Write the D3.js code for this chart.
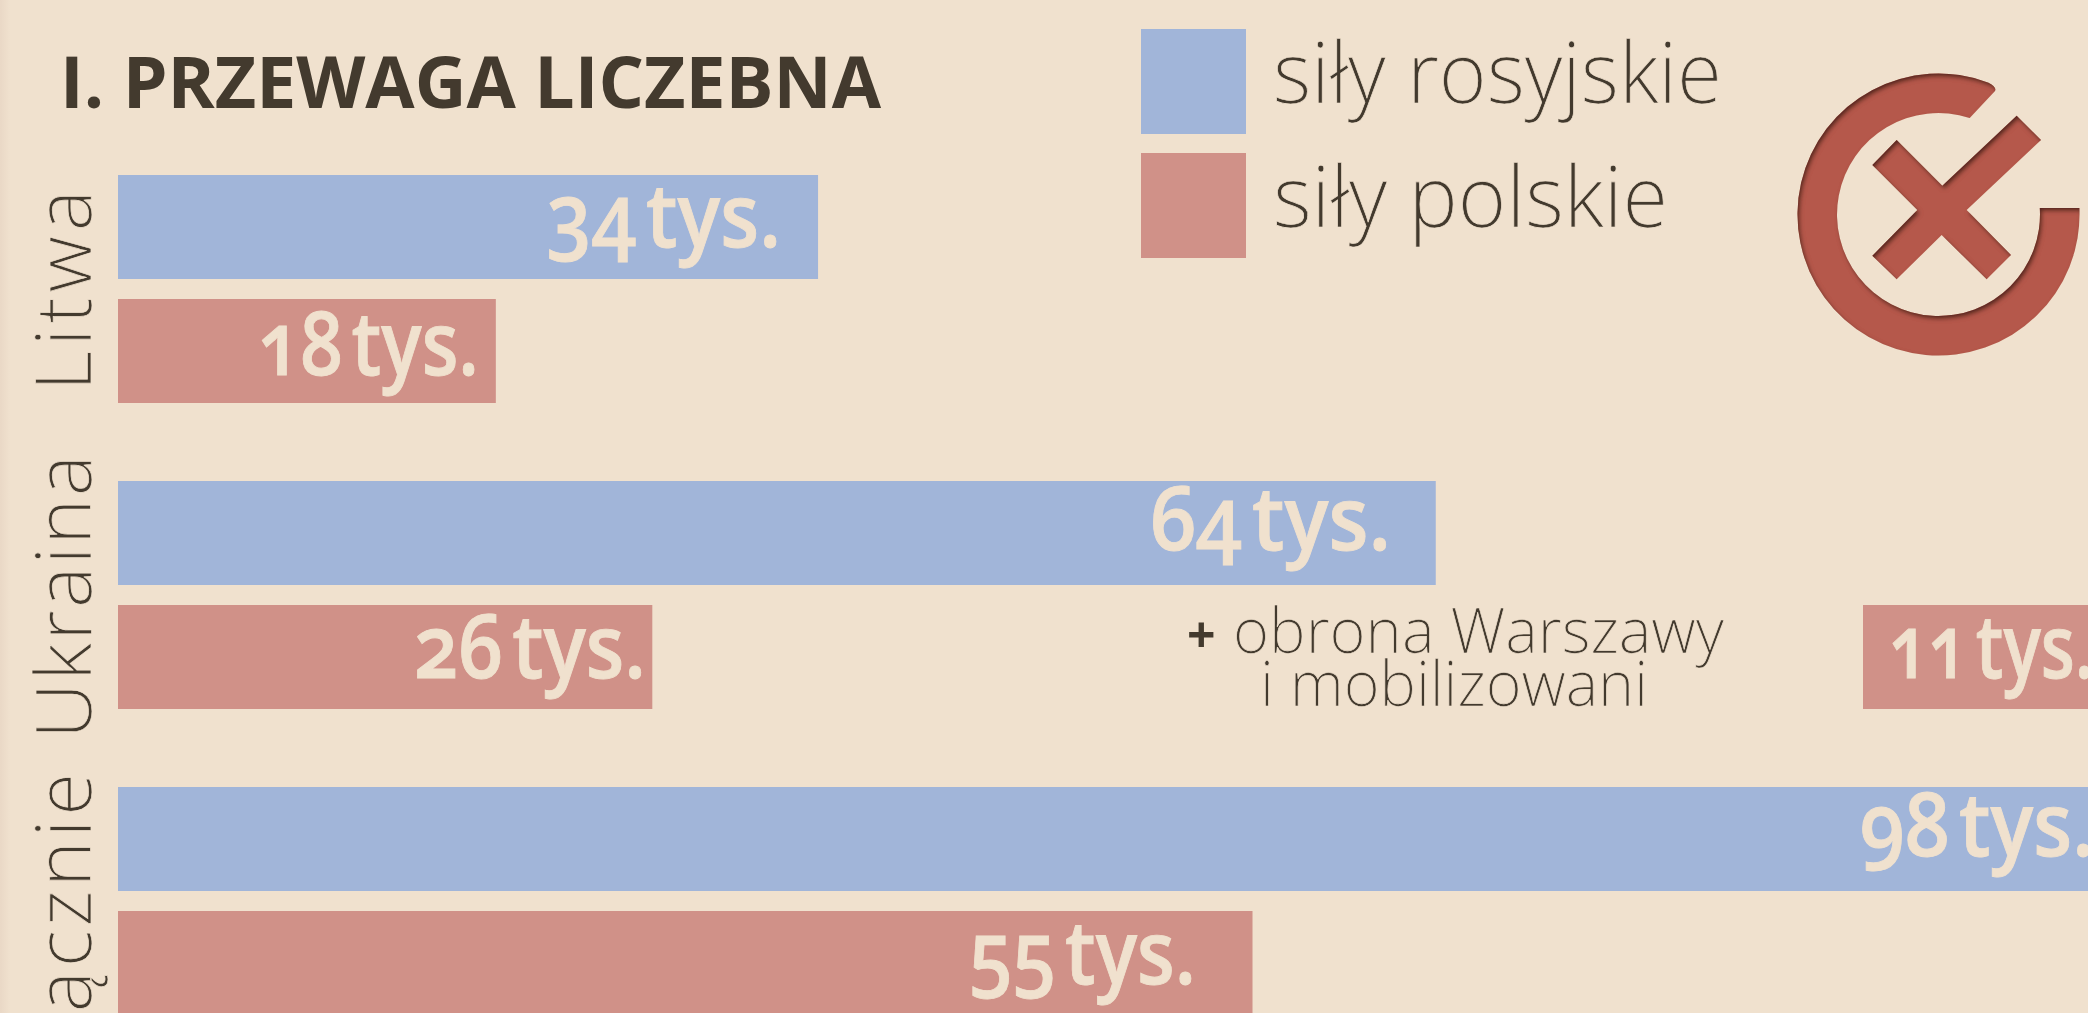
<!DOCTYPE html>
<html><head><meta charset="utf-8">
<script src="https://cdn.jsdelivr.net/npm/d3@7"></script>
<style>
html,body{margin:0;padding:0;background:#f0e1ce;overflow:hidden}
svg{display:block;font-family:"Open Sans",sans-serif;filter:blur(.55px)}
.thin{stroke:#f0e1ce;stroke-width:.7px}
</style></head><body>
<script>
const title = "I. PRZEWAGA LICZEBNA";
const categories = ["Litwa","Ukraina","Łącznie"];
const seriesNames = ["siły rosyjskie","siły polskie"];
const russian = [34,64,98];
const polish = [18.35,25.95,55.1];
const extraPolish = 11;
const unit = " tys.";
const noteLines = ["obrona Warszawy","i mobilizowani"];

const W=2088,H=1013;
const BLUE="#a1b5d9",RED="#d09188",BG="#f0e1ce",INK="#433a2e",ICON="#b5594b",LABEL="#f0e1ce";

const svg=d3.select("body").append("svg").attr("width",W).attr("height",H).attr("viewBox",[0,0,W,H]);
const defs=svg.append("defs");
const f=defs.append("filter").attr("id","inner").attr("x","-5%").attr("y","-5%").attr("width","110%").attr("height","110%");
f.append("feOffset").attr("in","SourceAlpha").attr("dx",1.5).attr("dy",2.5).attr("result","o");
f.append("feGaussianBlur").attr("in","o").attr("stdDeviation",2.2).attr("result","b");
f.append("feComposite").attr("in","SourceAlpha").attr("in2","b").attr("operator","out").attr("result","i");
f.append("feFlood").attr("flood-color","#2a120a").attr("flood-opacity",.85).attr("result","c");
f.append("feComposite").attr("in","c").attr("in2","i").attr("operator","in").attr("result","s");
const m=f.append("feMerge");m.append("feMergeNode").attr("in","SourceGraphic");m.append("feMergeNode").attr("in","s");
const g=defs.append("linearGradient").attr("id","edge");
g.append("stop").attr("offset",0).attr("stop-color","#e8d6c4");
g.append("stop").attr("offset",1).attr("stop-color",BG);

svg.append("rect").attr("x",-2).attr("y",-2).attr("width",W+4).attr("height",H+4).attr("fill",BG);
svg.append("rect").attr("x",-2).attr("y",-2).attr("width",12).attr("height",H+4).attr("fill","url(#edge)");

const x=d3.scaleLinear().domain([0,100]).range([118,118+2059]);
const y=d3.scaleBand().domain(categories).range([175,175+3*306]);
const barH=104, polishOffset=124;

const barG=svg.append("g");
barG.selectAll("rect.ru").data(russian).join("rect").attr("class","ru")
 .attr("x",x(0)).attr("y",(d,i)=>y(categories[i])).attr("width",d=>x(d)-x(0)).attr("height",barH).attr("fill",BLUE);
barG.selectAll("rect.pl").data(polish).join("rect").attr("class","pl")
 .attr("x",x(0)).attr("y",(d,i)=>y(categories[i])+polishOffset).attr("width",d=>x(d)-x(0)).attr("height",barH).attr("fill",RED);
const extraX=1863;
barG.append("rect").attr("x",extraX).attr("y",y("Ukraina")+polishOffset).attr("width",x(extraPolish)-x(0)).attr("height",barH).attr("fill",RED);

function label(t,xl,xr,base){
  svg.append("text").text(t).attr("x",xl).attr("y",base)
   .attr("textLength",xr-xl).attr("lengthAdjust","spacingAndGlyphs")
   .attr("font-size",88).attr("font-weight",600).attr("fill",LABEL)
   .attr("stroke",LABEL).attr("stroke-width",.9)
   .style("font-variant-numeric","oldstyle-nums").style("word-spacing","-0.14em");
}
const ruBox=[[547,781,247],[1150,1391,550],[1860,2094,856]];
const plBox=[[258,479,375],[414,646,678],[969,1196,984]];
russian.forEach((v,i)=>label(v+unit,...ruBox[i]));
polish.forEach((v,i)=>label(Math.round(v)+unit,...plBox[i]));
label(extraPolish+unit,1889,2094,678);

svg.append("text").text(title).attr("x",60).attr("y",108).attr("textLength",821).attr("lengthAdjust","spacingAndGlyphs")
 .attr("font-size",72).attr("font-weight",700).attr("fill",INK);

// legend
[BLUE,RED].forEach((c,i)=>{
  svg.append("rect").attr("x",1141).attr("y",29+124*i).attr("width",105).attr("height",105).attr("fill",c);
});
seriesNames.forEach((s,i)=>{
  svg.append("text").attr("class","thin").text(s).attr("x",1273).attr("y",103+124*i)
   .attr("textLength",[449,395][i]).attr("lengthAdjust","spacingAndGlyphs")
   .attr("font-size",84).attr("font-weight",300).attr("fill",INK);
});

// rotated category labels
const catPos=[[391,201],[739,284],[1056,283]];
categories.forEach((c,i)=>{
  svg.append("text").attr("class","thin").text(c).attr("transform",`translate(91,${catPos[i][0]}) rotate(-90)`)
   .attr("textLength",catPos[i][1]).attr("lengthAdjust","spacing")
   .attr("font-size",78).attr("font-weight",300).attr("fill",INK);
});

// note
svg.append("text").text("+").attr("x",1187).attr("y",653).attr("font-size",50).attr("font-weight",700).attr("fill",INK);
svg.append("text").attr("class","thin").text(noteLines[0]).attr("x",1233).attr("y",653).attr("textLength",491).attr("lengthAdjust","spacingAndGlyphs")
 .attr("font-size",62).attr("font-weight",300).attr("fill",INK);
svg.append("text").attr("class","thin").text(noteLines[1]).attr("x",1260).attr("y",706).attr("textLength",388).attr("lengthAdjust","spacingAndGlyphs")
 .attr("font-size",62).attr("font-weight",300).attr("fill",INK);

// emblem
const cx=1938.5,cy=214.5,R=141,r=101.5;
const ring=svg.append("g").attr("filter","url(#inner)");
const sA=-Math.asin(6.5/R), sI=-Math.asin(6.5/r);
const eO=Math.atan2(84-cy,1988-cx), eI=Math.atan2(117-cy,1970-cx);
const ringPath=d3.path();
ringPath.moveTo(cx+R*Math.cos(sA),cy+R*Math.sin(sA));
ringPath.arc(cx,cy,R,sA,eO,false);
ringPath.quadraticCurveTo(1997,87,1995,91);
ringPath.lineTo(cx+r*Math.cos(eI),cy+r*Math.sin(eI));
ringPath.arc(cx,cy,r,eI,sI,true);
ringPath.closePath();
ring.append("path").attr("d",ringPath.toString()).attr("fill",ICON);
const cross=[[350,270],[487,407],[710,197],[783,270],[560,480],[693,615],[620,688],[485,555],[350,688],[277,617],[412,480],[277,345]];
ring.append("path").attr("d",d3.line().x(d=>1780+d[0]/3).y(d=>50+d[1]/3)(cross)+"Z").attr("fill",ICON);
</script>
</body></html>
